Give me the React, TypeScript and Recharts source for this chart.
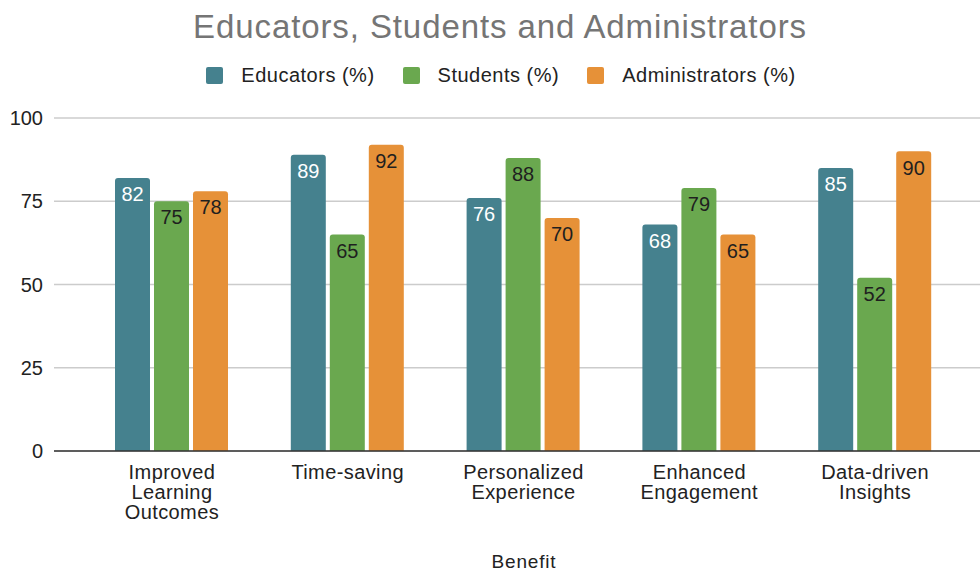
import { BarChart, Bar, XAxis, YAxis, CartesianGrid, LabelList, Text } from "recharts";

const benefits = [
  "Improved Learning Outcomes",
  "Time-saving",
  "Personalized Experience",
  "Enhanced Engagement",
  "Data-driven Insights",
];
const educators = [82, 89, 76, 68, 85];
const students = [75, 65, 88, 79, 52];
const administrators = [78, 92, 70, 65, 90];
const yTicks = [0, 25, 50, 75, 100];

const seriesInfo = [
  { key: "educators", name: "Educators (%)", color: "#45818e", labelColor: "#ffffff" },
  { key: "students", name: "Students (%)", color: "#6aa84f", labelColor: "#1f1f1f" },
  { key: "administrators", name: "Administrators (%)", color: "#e69138", labelColor: "#1f1f1f" },
];

const data = benefits.map((b, i) => ({
  benefit: b,
  educators: educators[i],
  students: students[i],
  administrators: administrators[i],
}));

const FONT = "'Liberation Sans', Arial, sans-serif";

const WrappedTick = (props: any) => {
  const { x, y, payload } = props;
  return (
    <Text
      x={x}
      y={y + 6}
      width={120}
      textAnchor="middle"
      verticalAnchor="start"
      fontSize={20}
      fontFamily={FONT}
      fill="#222222"
      lineHeight={20}
      style={{ letterSpacing: 0.4 }}
    >
      {payload.value}
    </Text>
  );
};

export default function App() {
  return (
    <div style={{ position: "absolute", left: 0, top: 0, width: 980, height: 572, background: "#fff" }}>
      <div
        style={{
          position: "absolute",
          top: 8,
          left: 0,
          width: 1000,
          textAlign: "center",
          fontFamily: FONT,
          fontSize: 33,
          letterSpacing: 0.9,
          color: "#757575",
        }}
      >
        Educators, Students and Administrators
      </div>
      <div
        style={{
          position: "absolute",
          top: 64,
          left: 0,
          width: 1002,
          display: "flex",
          justifyContent: "center",
          fontFamily: FONT,
          fontSize: 20,
          letterSpacing: 0.5,
          color: "#222222",
        }}
      >
        {seriesInfo.map((s) => (
          <div key={s.key} style={{ display: "flex", alignItems: "center", margin: "0 14px" }}>
            <span
              style={{ width: 17, height: 17, borderRadius: 2, background: s.color, display: "inline-block", marginRight: 18 }}
            />
            <span>{s.name}</span>
          </div>
        ))}
      </div>
      <BarChart
        width={980}
        height={572}
        data={data}
        margin={{ top: 118, right: 0, bottom: 0, left: 0 }}
        barSize={35}
        barGap={4}
      >
        <CartesianGrid vertical={false} stroke="#cccccc" strokeWidth={1.5} />
        <XAxis
          dataKey="benefit"
          height={121}
          tick={<WrappedTick />}
          tickLine={false}
          axisLine={{ stroke: "#333333", strokeWidth: 1.5 }}
          padding={{ left: 30, right: 17 }}
          interval={0}
          label={{
            value: "Benefit",
            position: "insideBottom",
            offset: 4,
            dx: 7,
            fontSize: 19,
            fontFamily: FONT,
            fill: "#222222",
            style: { letterSpacing: 0.8 },
          }}
        />
        <YAxis
          width={54}
          domain={[0, 100]}
          ticks={yTicks}
          axisLine={false}
          tickLine={false}
          tickMargin={5}
          tick={{ fontSize: 20, fontFamily: FONT, fill: "#222222" }}
        />
        {seriesInfo.map((s) => (
          <Bar key={s.key} dataKey={s.key} name={s.name} fill={s.color} radius={[3, 3, 0, 0]} isAnimationActive={false}>
            <LabelList dataKey={s.key} position="insideTop" offset={9} fill={s.labelColor} fontSize={20} fontFamily={FONT} />
          </Bar>
        ))}
      </BarChart>
    </div>
  );
}
